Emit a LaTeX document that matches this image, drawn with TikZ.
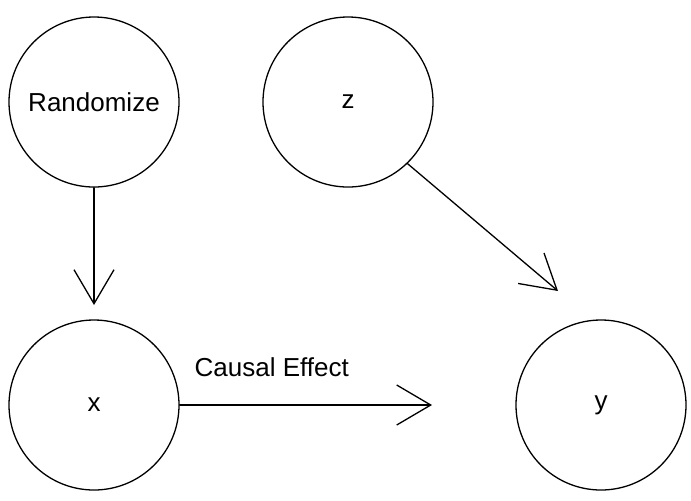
\documentclass[tikz,border=0pt]{standalone}
\usepackage{fontspec}
\setmainfont{Liberation Sans}
\usetikzlibrary{arrows.meta}
\begin{document}
\begin{tikzpicture}[x=0.5pt,y=-0.5pt,line join = round, line cap = round,
	font=\fontsize{13}{15}\selectfont,
	var/.style={draw,circle,line width=0.65pt,minimum size=85pt,inner sep=0pt},
	edge/.style={line width=0.65pt,-{Straight Barb[length=17pt,width=20pt,line width=0.65pt]}}]
		\useasboundingbox (0,0) rectangle (691,500);
		\node[var] (rand) at (94,102) {Randomize};
		\node[var] (z) at (348,102) {z};
		\node[var] (x) at (94,405) {x};
		\node[var] (y) at (601,405) {y};
		\coordinate (xtop) at (94,305);
		\coordinate (ymid) at (432,405);
		\coordinate (ytop) at (558,291);
		\draw[edge] (rand) -- (xtop);
		\draw[edge] (x) -- (ymid) node[pos=0.365,above=10.5pt] {Causal Effect};
		\draw[edge] (z.-46) -- (ytop);
		\end{tikzpicture}
\end{document}
